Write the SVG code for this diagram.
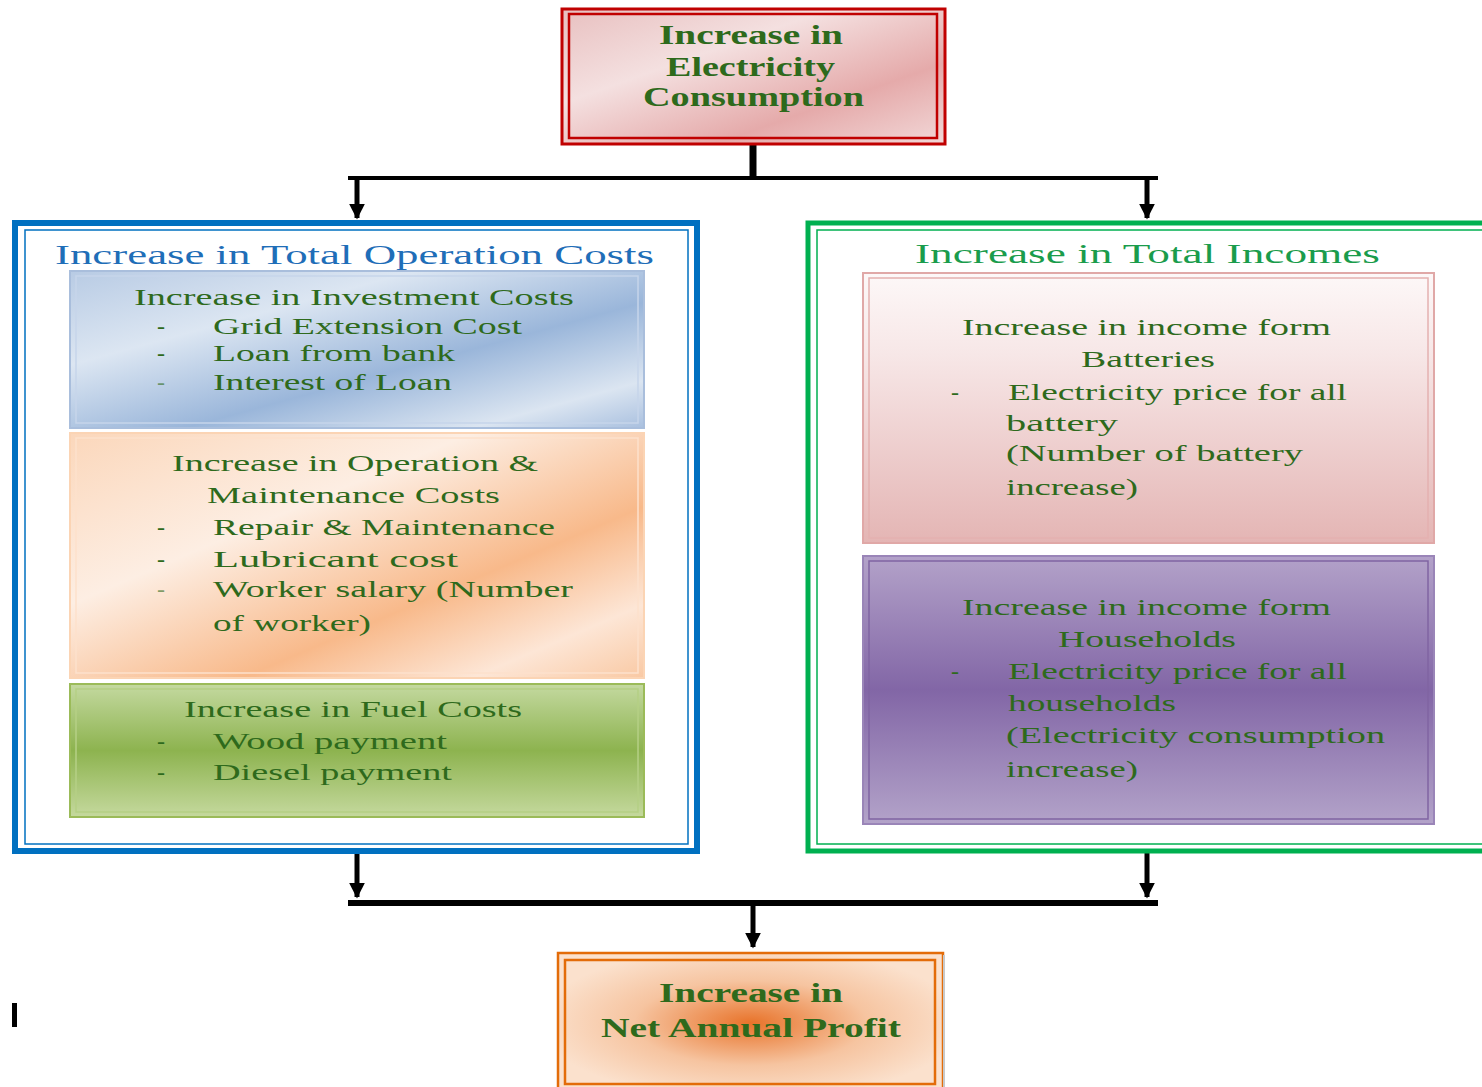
<svg xmlns="http://www.w3.org/2000/svg" width="1482" height="1087" viewBox="0 0 1482 1087">
<style>
.t{font-family:"Liberation Serif","DejaVu Serif",serif;fill:#2e6a1c;font-size:24px}
.b{font-family:"Liberation Serif","DejaVu Serif",serif;fill:#2e6a1c;font-size:27px;font-weight:bold}
.ttl{font-family:"Liberation Serif","DejaVu Serif",serif;font-size:28px}
.line{stroke:#000;stroke-width:5;fill:none}
</style>
<defs>
<marker id="ah" viewBox="0 0 10 10" refX="9" refY="5" markerWidth="3.2" markerHeight="3.2" orient="auto" markerUnits="strokeWidth">
<path d="M0,0 L10,5 L0,10 z" fill="#000"/>
</marker>
<linearGradient id="gRed" x1="0" y1="0" x2="1" y2="1">
<stop offset="0" stop-color="#e8c0c0"/><stop offset="0.35" stop-color="#f4e0e0"/><stop offset="0.7" stop-color="#e5aaaa"/><stop offset="1" stop-color="#f2d8d8"/>
</linearGradient>
<linearGradient id="gBlue" x1="0" y1="0" x2="1" y2="1">
<stop offset="0" stop-color="#b8cbe4"/><stop offset="0.3" stop-color="#dce6f2"/><stop offset="0.6" stop-color="#9ab6da"/><stop offset="0.85" stop-color="#dbe5f1"/><stop offset="1" stop-color="#a9c0df"/>
</linearGradient>
<linearGradient id="gOrange" x1="0" y1="0" x2="1" y2="1">
<stop offset="0" stop-color="#fbd7bb"/><stop offset="0.35" stop-color="#fdeee3"/><stop offset="0.65" stop-color="#f8b98a"/><stop offset="0.85" stop-color="#fde6d6"/><stop offset="1" stop-color="#f9c9a4"/>
</linearGradient>
<linearGradient id="gGreen" x1="0" y1="0" x2="0" y2="1">
<stop offset="0" stop-color="#c4d9a0"/><stop offset="0.5" stop-color="#8db34f"/><stop offset="1" stop-color="#c5d99e"/>
</linearGradient>
<linearGradient id="gPink" x1="0" y1="0" x2="0" y2="1">
<stop offset="0" stop-color="#fdf8f8"/><stop offset="0.3" stop-color="#f7e7e7"/><stop offset="1" stop-color="#e4b5b4"/>
</linearGradient>
<linearGradient id="gPurple" x1="0" y1="0" x2="0" y2="1">
<stop offset="0" stop-color="#b3a2c9"/><stop offset="0.5" stop-color="#8266a6"/><stop offset="1" stop-color="#b3a3c9"/>
</linearGradient>
<radialGradient id="gProfit" cx="0.5" cy="0.5" r="0.55">
<stop offset="0" stop-color="#e8732a"/><stop offset="0.55" stop-color="#f6c4a0"/><stop offset="1" stop-color="#fbe1cd"/>
</radialGradient>
</defs>

<g id="connectors">
<line x1="753" y1="144" x2="753" y2="178" stroke="#000" stroke-width="7"/>
<line x1="348" y1="178" x2="1158" y2="178" stroke="#000" stroke-width="4"/>
<line class="line" x1="357" y1="178" x2="357" y2="218" marker-end="url(#ah)"/>
<line class="line" x1="1147" y1="178" x2="1147" y2="218" marker-end="url(#ah)"/>
<line class="line" x1="357" y1="853" x2="357" y2="897" marker-end="url(#ah)"/>
<line class="line" x1="1147" y1="853" x2="1147" y2="897" marker-end="url(#ah)"/>
<line x1="348" y1="903" x2="1158" y2="903" stroke="#000" stroke-width="6"/>
<line class="line" x1="753" y1="903" x2="753" y2="947" marker-end="url(#ah)"/>
</g>

<g id="node-electricity">
<rect x="562" y="9" width="383" height="135" fill="url(#gRed)" stroke="#c00000" stroke-width="3"/>
<rect x="569" y="14" width="368" height="124" fill="none" stroke="#c00000" stroke-width="2.5"/>
<text class="b" x="659" y="44" textLength="184" lengthAdjust="spacingAndGlyphs">Increase in</text>
<text class="b" x="666" y="76" textLength="169" lengthAdjust="spacingAndGlyphs">Electricity</text>
<text class="b" x="643" y="106" textLength="221" lengthAdjust="spacingAndGlyphs">Consumption</text>
</g>

<g id="node-operation-costs">
<rect x="15" y="223" width="682" height="628" fill="#fff" stroke="#0070c0" stroke-width="6"/>
<rect x="25" y="230" width="663" height="614" fill="none" stroke="#0070c0" stroke-width="1.5"/>
<text class="ttl" x="55" y="264" fill="#1f6eb8" textLength="599" lengthAdjust="spacingAndGlyphs">Increase in Total Operation Costs</text>
</g>

<g id="node-investment">
<rect x="70" y="271" width="574" height="157" fill="url(#gBlue)" stroke="#a9bedc" stroke-width="2"/>
<rect x="76" y="276" width="562" height="147" fill="none" stroke="#c6d5ea" stroke-width="1.5"/>
<text class="t" x="134" y="305" textLength="440" lengthAdjust="spacingAndGlyphs">Increase in Investment Costs</text>
<text class="t" x="157" y="334">-</text>
<text class="t" x="213" y="334" textLength="309" lengthAdjust="spacingAndGlyphs">Grid Extension Cost</text>
<text class="t" x="157" y="361">-</text>
<text class="t" x="213" y="361" textLength="242" lengthAdjust="spacingAndGlyphs">Loan from bank</text>
<text class="t" x="157" y="390" fill-opacity="0.6">-</text>
<text class="t" x="213" y="390" textLength="239" lengthAdjust="spacingAndGlyphs">Interest of Loan</text>
</g>

<g id="node-om">
<rect x="70" y="433" width="574" height="245" fill="url(#gOrange)" stroke="#fbd4b4" stroke-width="2"/>
<rect x="76" y="438" width="562" height="235" fill="none" stroke="#fde1cc" stroke-width="1.5"/>
<text class="t" x="172" y="471" textLength="366" lengthAdjust="spacingAndGlyphs">Increase in Operation &amp;</text>
<text class="t" x="207" y="503" textLength="293" lengthAdjust="spacingAndGlyphs">Maintenance Costs</text>
<text class="t" x="157" y="535">-</text>
<text class="t" x="213" y="535" textLength="342" lengthAdjust="spacingAndGlyphs">Repair &amp; Maintenance</text>
<text class="t" x="157" y="567">-</text>
<text class="t" x="213" y="567" textLength="245" lengthAdjust="spacingAndGlyphs">Lubricant cost</text>
<text class="t" x="157" y="597" fill-opacity="0.6">-</text>
<text class="t" x="213" y="597" textLength="360" lengthAdjust="spacingAndGlyphs">Worker salary (Number</text>
<text class="t" x="213" y="631" textLength="158" lengthAdjust="spacingAndGlyphs">of worker)</text>
</g>

<g id="node-fuel">
<rect x="70" y="684" width="574" height="133" fill="url(#gGreen)" stroke="#9bbb59" stroke-width="2"/>
<rect x="76" y="689" width="562" height="123" fill="none" stroke="#b5cf85" stroke-width="1.5"/>
<text class="t" x="184" y="717" textLength="338" lengthAdjust="spacingAndGlyphs">Increase in Fuel Costs</text>
<text class="t" x="157" y="749">-</text>
<text class="t" x="213" y="749" textLength="234" lengthAdjust="spacingAndGlyphs">Wood payment</text>
<text class="t" x="157" y="780">-</text>
<text class="t" x="213" y="780" textLength="239" lengthAdjust="spacingAndGlyphs">Diesel payment</text>
</g>

<g id="node-incomes">
<rect x="808" y="223" width="680" height="628" fill="#fff" stroke="#00b050" stroke-width="5"/>
<rect x="817" y="230" width="670" height="614" fill="none" stroke="#00b050" stroke-width="1.5"/>
<text class="ttl" x="915" y="263" fill="#1a9c4c" textLength="465" lengthAdjust="spacingAndGlyphs">Increase in Total Incomes</text>
</g>

<g id="node-batteries">
<rect x="863" y="273" width="571" height="270" fill="url(#gPink)" stroke="#e0a8a7" stroke-width="2"/>
<rect x="869" y="278" width="559" height="260" fill="none" stroke="#e4b1b0" stroke-width="1.5"/>
<text class="t" x="962" y="335" textLength="369" lengthAdjust="spacingAndGlyphs">Increase in income  form</text>
<text class="t" x="1081" y="367" textLength="134" lengthAdjust="spacingAndGlyphs">Batteries</text>
<text class="t" x="951" y="400">-</text>
<text class="t" x="1008" y="400" textLength="339" lengthAdjust="spacingAndGlyphs">Electricity price for all</text>
<text class="t" x="1006" y="431" textLength="112" lengthAdjust="spacingAndGlyphs">battery</text>
<text class="t" x="1006" y="461" textLength="297" lengthAdjust="spacingAndGlyphs">(Number of battery</text>
<text class="t" x="1006" y="495" textLength="132" lengthAdjust="spacingAndGlyphs">increase)</text>
</g>

<g id="node-households">
<rect x="863" y="556" width="571" height="268" fill="url(#gPurple)" stroke="#9a85b8" stroke-width="2"/>
<rect x="869" y="561" width="559" height="258" fill="none" stroke="#8064a2" stroke-width="1.5"/>
<text class="t" x="962" y="615" textLength="369" lengthAdjust="spacingAndGlyphs">Increase in income  form</text>
<text class="t" x="1058" y="647" textLength="178" lengthAdjust="spacingAndGlyphs">Households</text>
<text class="t" x="951" y="679">-</text>
<text class="t" x="1008" y="679" textLength="339" lengthAdjust="spacingAndGlyphs">Electricity price for all</text>
<text class="t" x="1008" y="711" textLength="168" lengthAdjust="spacingAndGlyphs">households</text>
<text class="t" x="1006" y="743" textLength="379" lengthAdjust="spacingAndGlyphs">(Electricity consumption</text>
<text class="t" x="1006" y="777" textLength="132" lengthAdjust="spacingAndGlyphs">increase)</text>
</g>

<g id="node-profit">
<rect x="558" y="953" width="385" height="140" fill="url(#gProfit)" stroke="#e36c09" stroke-width="2.5"/>
<rect x="565" y="960" width="370" height="124" fill="none" stroke="#e36c09" stroke-width="2.5"/>
<line x1="944" y1="955" x2="944" y2="1087" stroke="#c8c8c8" stroke-width="2"/>
<text class="b" x="659" y="1002" textLength="184" lengthAdjust="spacingAndGlyphs">Increase in</text>
<text class="b" x="601" y="1037" textLength="300" lengthAdjust="spacingAndGlyphs">Net Annual Profit</text>
</g>

<rect x="12" y="1003" width="5" height="24" fill="#000"/>
</svg>
